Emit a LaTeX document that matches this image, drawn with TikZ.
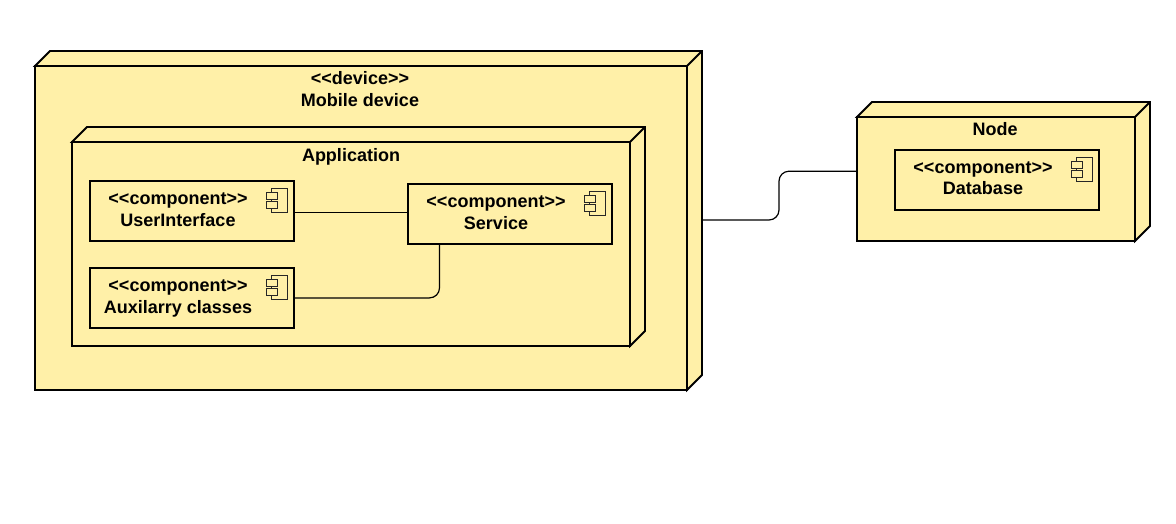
\documentclass[tikz,border=0pt]{standalone}
\usepackage{fontspec}
\newfontfamily\lab{Liberation Sans}
\definecolor{nodefill}{HTML}{FFF0A8}
\tikzset{
  x=1pt,y=-1pt,
  box/.style={draw=black,line width=1.8pt,fill=nodefill,rectangle,inner sep=0pt,outer sep=0pt,line join=miter},
  txt/.style={font=\fontsize{18}{21}\lab\bfseries,inner sep=0pt,anchor=base,text=black,yshift=-0.7pt},
  conn/.style={draw=black,line width=1.2pt,rounded corners=10pt},
  icon/.style={draw=black!85,line width=1.5pt,fill=nodefill},
}
% #1 name, #2 x0, #3 y0, #4 x1, #5 y1 (front face)
\newcommand{\cube}[5]{%
  \node[box,minimum width=#4pt-#2pt,minimum height=#5pt-#3pt] (#1) at ({(#2+#4)/2},{(#3+#5)/2}) {};
  \path[box] (#1.north west) -- ++(15,-15) -- ++({#4-#2},0) -- ++(0,{#5-#3}) -- (#1.south east) -- (#1.north east) -- cycle;
  \draw[box,fill=none] (#1.north east) -- ++(15,-15);
}
\newcommand{\comp}[3]{%
  \node[box,minimum width=204pt,minimum height=60pt,anchor=north west] (#1) at (#2,#3) {};
  \path[icon] ($(#1.north east)+(-22.5,7.5)$) rectangle ($(#1.north east)+(-6.5,31.5)$);
  \path[icon] ($(#1.north east)+(-27.5,11.5)$) rectangle ($(#1.north east)+(-16.5,18.5)$);
  \path[icon] ($(#1.north east)+(-27.5,20.5)$) rectangle ($(#1.north east)+(-16.5,27.5)$);
}
\usetikzlibrary{calc}
\begin{document}
\begin{tikzpicture}
\useasboundingbox (0,0) rectangle (1176,523);
\cube{dev}{35}{66}{687}{390}
\cube{app}{72}{142}{630}{346}
\comp{ui}{90}{181}
\comp{aux}{90}{268}
\comp{svc}{408}{184}
\cube{nd}{857}{117}{1135}{241}
\comp{db}{895}{150}
\coordinate (devr) at ($(dev.east)+(15,-8)$);
\coordinate (svcl) at (svc.west |- 0,212.5);
\coordinate (uir) at (ui.east |- 0,212.5);
\coordinate (auxr) at (aux.east |- 0,297.9);
\coordinate (svcb) at (439.5,244);
\coordinate (ndl) at (nd.west |- 0,171.2);
\draw[conn] (uir) -- (svcl);
\draw[conn] (auxr) -- (439.5,297.9) -- (svcb);
\draw[conn] (devr) -- (779,220) -- (779,171.2) -- (ndl);
\node[txt] (t1) at (360,84) {<<device>>};
\node[txt] (t2) at (360,105.5) {Mobile device};
\node[txt] (t3) at (351,160.5) {Application};
\node[txt] (t4) at (178,203.5) {<<component>>};
\node[txt] (t5) at (178,225.5) {UserInterface};
\node[txt] (t6) at (178,290.5) {<<component>>};
\node[txt] (t7) at (178,312.5) {Auxilarry classes};
\node[txt] (t8) at (496,206.5) {<<component>>};
\node[txt] (t9) at (496,228.5) {Service};
\node[txt] (t10) at (995,134.5) {Node};
\node[txt] (t11) at (983,172.5) {<<component>>};
\node[txt] (t12) at (983,193.5) {Database};
\end{tikzpicture}
\end{document}
